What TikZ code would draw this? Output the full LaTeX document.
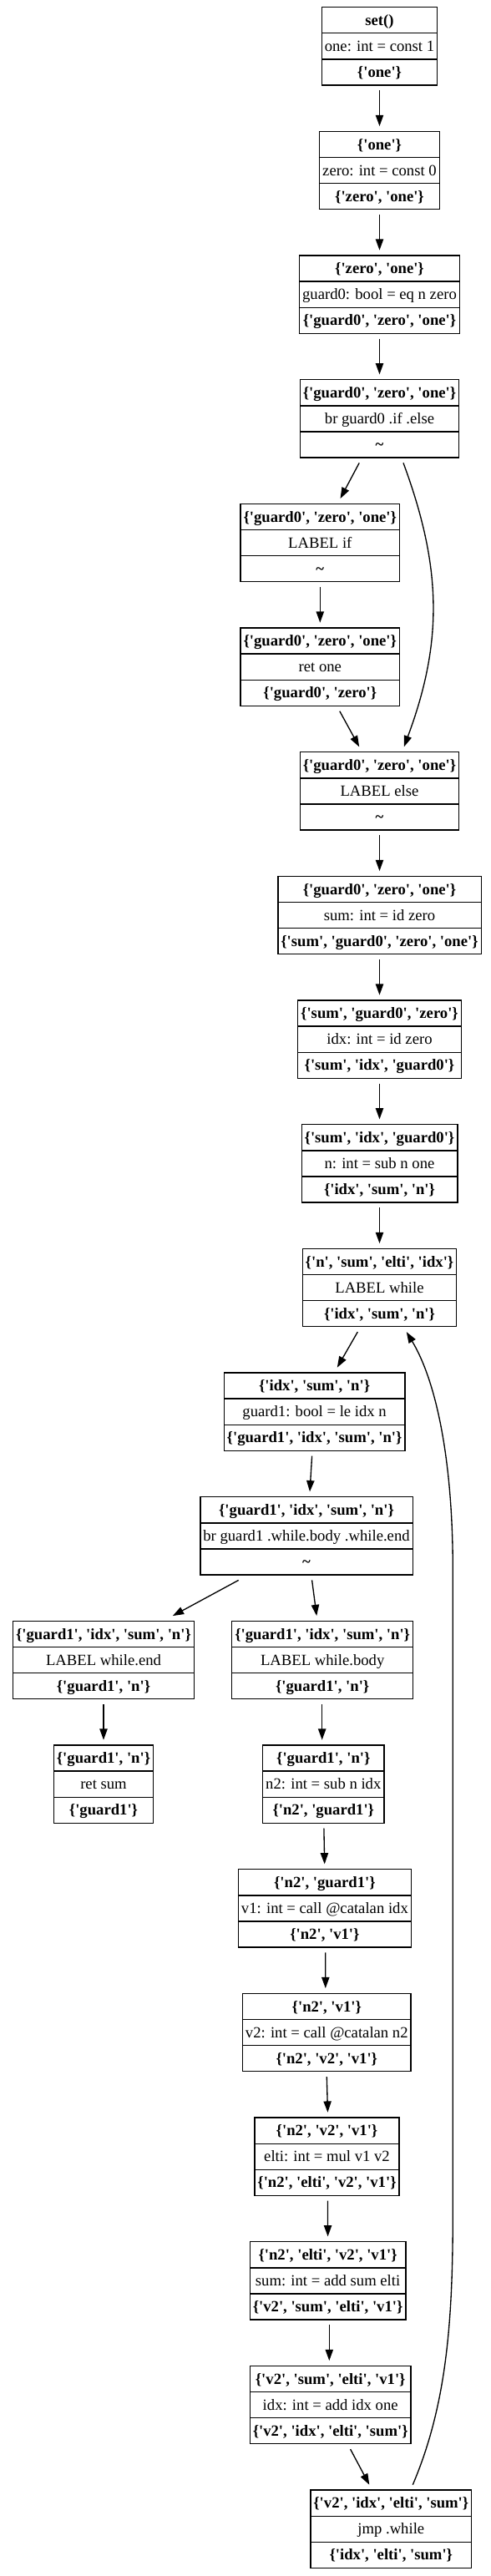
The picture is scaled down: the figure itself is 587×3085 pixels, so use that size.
\documentclass[tikz,border=0pt]{standalone}
\usepackage{fontspec}
\setmainfont{Liberation Serif}[Ligatures=TeXOff]
\usetikzlibrary{shapes.multipart,arrows.meta}
\newcommand\rs{\rule[-8.8pt]{0pt}{29.8pt}}
\newcommand\tri[3]{\textbf{#1}\rs\nodepart{two}#2\rs\nodepart{three}\textbf{#3}\rs}
\tikzset{
  blk/.style={rectangle split, rectangle split parts=3, draw=black, line width=1.33pt,
    inner xsep=3.5pt, inner ysep=0pt, outer ysep=6.3pt, outer xsep=0pt,
    font=\fontsize{18.67pt}{22pt}\selectfont, anchor=center},
  arr/.style={draw=black, line width=1.33pt, -{Triangle[length=13.3pt,width=9.3pt]}}
}
\begin{document}
\begin{tikzpicture}[x=1pt,y=-1pt]
\useasboundingbox (0,0) rectangle (587,3085);
\node[blk] (set) at (454.5,55.4) {\tri{set()}{one: int = const 1}{\{'one'\}}};
\node[blk] (one) at (454.5,204.1) {\tri{\{'one'\}}{zero: int = const 0}{\{'zero', 'one'\}}};
\node[blk] (zo) at (454.5,352.7) {\tri{\{'zero', 'one'\}}{guard0: bool = eq n zero}{\{'guard0', 'zero', 'one'\}}};
\node[blk] (br0) at (454.5,501.4) {\tri{\{'guard0', 'zero', 'one'\}}{br guard0 .if .else}{\textasciitilde}};
\node[blk] (lif) at (383.3,650.1) {\tri{\{'guard0', 'zero', 'one'\}}{LABEL if}{\textasciitilde}};
\node[blk] (ret1) at (383.3,798.7) {\tri{\{'guard0', 'zero', 'one'\}}{ret one}{\{'guard0', 'zero'\}}};
\node[blk] (lelse) at (454.5,947.4) {\tri{\{'guard0', 'zero', 'one'\}}{LABEL else}{\textasciitilde}};
\node[blk] (sum0) at (454.5,1096.1) {\tri{\{'guard0', 'zero', 'one'\}}{sum: int = id zero}{\{'sum', 'guard0', 'zero', 'one'\}}};
\node[blk] (idx0) at (454.5,1244.7) {\tri{\{'sum', 'guard0', 'zero'\}}{idx: int = id zero}{\{'sum', 'idx', 'guard0'\}}};
\node[blk] (n0) at (454.5,1393.4) {\tri{\{'sum', 'idx', 'guard0'\}}{n: int = sub n one}{\{'idx', 'sum', 'n'\}}};
\node[blk] (lwhile) at (454.5,1542.1) {\tri{\{'n', 'sum', 'elti', 'idx'\}}{LABEL while}{\{'idx', 'sum', 'n'\}}};
\node[blk] (g1) at (376.6,1690.7) {\tri{\{'idx', 'sum', 'n'\}}{guard1: bool = le idx n}{\{'guard1', 'idx', 'sum', 'n'\}}};
\node[blk] (br1) at (367,1839.4) {\tri{\{'guard1', 'idx', 'sum', 'n'\}}{br guard1 .while.body .while.end}{\textasciitilde}};
\node[blk] (wend) at (124,1988.1) {\tri{\{'guard1', 'idx', 'sum', 'n'\}}{LABEL while.end}{\{'guard1', 'n'\}}};
\node[blk] (wbody) at (386.2,1988.1) {\tri{\{'guard1', 'idx', 'sum', 'n'\}}{LABEL while.body}{\{'guard1', 'n'\}}};
\node[blk] (rets) at (124,2136.7) {\tri{\{'guard1', 'n'\}}{ret sum}{\{'guard1'\}}};
\node[blk] (n2) at (387.3,2136.7) {\tri{\{'guard1', 'n'\}}{n2: int = sub n idx}{\{'n2', 'guard1'\}}};
\node[blk] (v1) at (388.9,2285.4) {\tri{\{'n2', 'guard1'\}}{v1: int = call @catalan idx}{\{'n2', 'v1'\}}};
\node[blk] (v2) at (391.3,2434.1) {\tri{\{'n2', 'v1'\}}{v2: int = call @catalan n2}{\{'n2', 'v2', 'v1'\}}};
\node[blk] (elti) at (391.5,2582.7) {\tri{\{'n2', 'v2', 'v1'\}}{elti: int = mul v1 v2}{\{'n2', 'elti', 'v2', 'v1'\}}};
\node[blk] (suma) at (392.6,2731.4) {\tri{\{'n2', 'elti', 'v2', 'v1'\}}{sum: int = add sum elti}{\{'v2', 'sum', 'elti', 'v1'\}}};
\node[blk] (idxa) at (395.7,2880.1) {\tri{\{'v2', 'sum', 'elti', 'v1'\}}{idx: int = add idx one}{\{'v2', 'idx', 'elti', 'sum'\}}};
\node[blk] (jmp) at (468.3,3028.7) {\tri{\{'v2', 'idx', 'elti', 'sum'\}}{jmp .while}{\{'idx', 'elti', 'sum'\}}};
%
\draw[arr] (set.south) -- (one.north);
\draw[arr] (one.south) -- (zo.north);
\draw[arr] (zo.south) -- (br0.north);
\draw[arr] ([xshift=-24.3pt]br0.south) -- ([xshift=24.2pt]lif.north);
\draw[arr] ([xshift=28.5pt]br0.south) .. controls (529.5,680) and (530.5,769) .. ([xshift=29.3pt]lelse.north);
\draw[arr] (lif.south) -- (ret1.north);
\draw[arr] ([xshift=23.5pt]ret1.south) -- ([xshift=-24.3pt]lelse.north);
\draw[arr] (lelse.south) -- (sum0.north);
\draw[arr] (sum0.south) -- (idx0.north);
\draw[arr] (idx0.south) -- (n0.north);
\draw[arr] (n0.south) -- (lwhile.north);
\draw[arr] ([xshift=-26.2pt]lwhile.south) -- ([xshift=27.2pt]g1.north);
\draw[arr] ([xshift=-3pt]g1.south) -- ([xshift=4pt]br1.north);
\draw[arr] ([xshift=-81.3pt]br1.south) -- ([xshift=82.8pt]wend.north);
\draw[arr] ([xshift=6.6pt]br1.south) -- ([xshift=-7pt]wbody.north);
\draw[arr] (wend.south) -- (rets.north);
\draw[arr] ([xshift=-0.5pt]wbody.south) -- ([xshift=-1.6pt]n2.north);
\draw[arr] ([xshift=0.6pt]n2.south) -- ([xshift=-0.2pt]v1.north);
\draw[arr] ([xshift=0.9pt]v1.south) -- ([xshift=-1.5pt]v2.north);
\draw[arr] (v2.south) -- ([xshift=1pt]elti.north);
\draw[arr] ([xshift=1pt]elti.south) -- (suma.north);
\draw[arr] ([xshift=1.7pt]suma.south) -- ([xshift=-1.4pt]idxa.north);
\draw[arr] ([xshift=23.9pt]idxa.south) -- ([xshift=-26pt]jmp.north);
\draw[arr] ([xshift=26pt]jmp.north) .. controls (535,2880) and (542.3,2780) .. (542.3,2650)
  -- (542.3,1880) .. controls (542.3,1740) and (520,1650) .. ([xshift=32.3pt]lwhile.south);
\end{tikzpicture}
\end{document}
